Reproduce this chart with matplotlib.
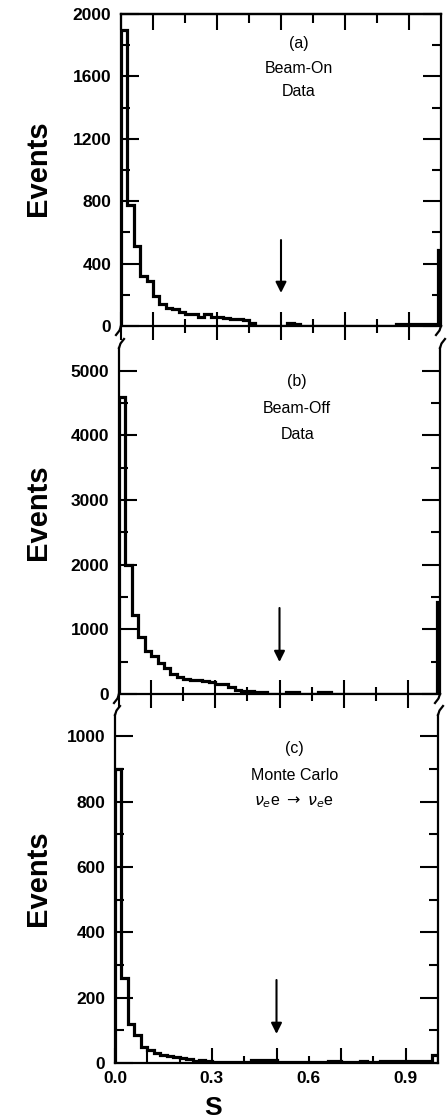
import numpy as np
import matplotlib
matplotlib.use('Agg')
import matplotlib.pyplot as plt

plt.rcParams['font.family'] = ['Liberation Sans', 'DejaVu Sans']

# S bins: 0.02 wide up to 0.98, then two narrow bins at the upper end
edges = list(np.round(np.arange(0.0, 0.981, 0.02), 2)) + [0.99, 1.00]

beam_on = [1900, 775, 515, 320, 290, 190, 140, 115, 110, 90,
           80, 80, 60, 80, 60, 55, 50, 45, 45, 40,
           20, 3, 3, 3, 3, 3, 20, 15, 3, 3,
           3, 3, 3, 3, 3, 3, 3, 3, 3, 3,
           3, 3, 3, 15, 15, 15, 15, 15, 15, 15,
           485]

beam_off = [4600, 2000, 1220, 880, 670, 590, 480, 400, 310, 260,
            230, 220, 215, 200, 180, 160, 150, 105, 60, 45,
            40, 36, 36, 5, 5, 5, 36, 36, 5, 5,
            5, 26, 26, 3, 3, 3, 3, 3, 3, 3,
            3, 3, 3, 3, 3, 3, 3, 3, 3, 3,
            1430]

monte_carlo = [900, 260, 120, 85, 50, 40, 30, 25, 22, 18,
               15, 12, 5, 10, 5, 3, 3, 3, 3, 3,
               3, 10, 10, 10, 10, 3, 3, 3, 3, 3,
               3, 3, 3, 7, 7, 3, 3, 3, 7, 3,
               3, 5, 5, 5, 5, 5, 5, 5, 5, 25,
               25]

labels = [['(a)', 'Beam-On', 'Data'],
          ['(b)', 'Beam-Off', 'Data'],
          ['(c)', 'Monte Carlo', r'$\nu_e$e $\rightarrow$ $\nu_e$e']]
y_max = [2000, 5350, 1065]
y_major = [400, 1000, 200]
cut = 0.5
arrows = [(212, 551), (495, 1330), (89, 254)]  # (tip, tail) in events

x_major = [0.0, 0.1, 0.3, 0.5, 0.7, 0.9]
x_minor = [0.2, 0.4, 0.6, 0.8]

fig = plt.figure(figsize=(4.48, 11.2), dpi=100)
W, H = 448, 1120
boxes = [(121, 441, 14, 326), (119, 440, 348, 694), (115, 438, 715, 1063)]
axes = []
for l, r, t, b in boxes:
    axes.append(fig.add_axes([l / W, 1 - b / H, (r - l) / W, (b - t) / H]))

data = [beam_on, beam_off, monte_carlo]
for i, ax in enumerate(axes):
    ax.stairs(data[i], edges, color='black', lw=2.3)
    ax.set_xlim(0, 1.0)
    ax.set_ylim(0, y_max[i])
    for s in ax.spines.values():
        s.set_linewidth(1.6)
    if i > 0:
        ax.spines['top'].set_visible(False)

    ax.set_yticks(np.arange(0, y_max[i] + 1, y_major[i]))
    ax.set_yticks(np.arange(0, y_max[i] + 1, y_major[i] / 2), minor=True)
    ax.tick_params(axis='y', which='both', direction='in', left=True, right=True,
                   width=1.5, labelsize=12.5, pad=7)
    ax.tick_params(axis='y', which='major', length=13)
    ax.tick_params(axis='y', which='minor', length=6.5)
    for lab in ax.get_yticklabels():
        lab.set_fontweight('bold')

    if i < 2:
        ax.set_xticks(x_major, labels=[''] * len(x_major))
        ax.set_xticks(x_minor, labels=[''] * len(x_minor), minor=True)
        ax.tick_params(axis='x', which='both', direction='inout', top=False, width=1.5)
        ax.tick_params(axis='x', which='major', length=20)
        ax.tick_params(axis='x', which='minor', length=10)
    else:
        ax.set_xticks(x_major, labels=['0.0', '', '0.3', '', '', '0.9'])
        ax.set_xticks(x_minor, labels=['', '', '0.6', ''], minor=True)
        ax.tick_params(axis='x', which='both', direction='in', top=False, width=1.5,
                       labelsize=12.5, pad=6)
        ax.tick_params(axis='x', which='major', length=11)
        ax.tick_params(axis='x', which='minor', length=5)
        for lab in ax.get_xticklabels(minor=False) + ax.get_xticklabels(minor=True):
            lab.set_fontweight('bold')

    # cut arrow at S = 0.5
    tip, tail = arrows[i]
    ax.annotate('', xy=(cut, tip), xytext=(cut, tail),
                arrowprops=dict(arrowstyle='-|>', color='black', lw=1.5,
                                mutation_scale=16, shrinkA=0, shrinkB=0))

    ys = [0.904, 0.826, 0.750]
    for txt, yy in zip(labels[i], ys):
        ax.text(0.555, yy, txt, transform=ax.transAxes, ha='center', va='center',
                fontsize=11.5)

    fig.text(38 / W, 1 - [168, 512, 878][i] / H, 'Events', rotation=90,
             ha='center', va='center', fontsize=21, fontweight='bold')

sec = axes[0].secondary_xaxis('top')
sec.set_xticks(x_major, labels=[''] * len(x_major))
sec.set_xticks(x_minor, labels=[''] * len(x_minor), minor=True)
sec.tick_params(which='both', direction='in', width=1.5)
sec.tick_params(which='major', length=11.5)
sec.tick_params(which='minor', length=6.5)
sec.spines['top'].set_linewidth(1.6)


# broken-axis marks between panels
def mark(ax, up):
    bb = ax.get_position()
    dx = 5 / (bb.width * W)
    dy = 9 / (bb.height * H)
    for x0 in (0, 1):
        if up:
            ax.plot([x0, x0 + dx * 0.3, x0 + dx], [1, 1 + dy * 0.5, 1 + dy],
                    color='black', lw=1.6, transform=ax.transAxes, clip_on=False)
        else:
            ax.plot([x0, x0 - dx * 0.3, x0 - dx], [0, -dy * 0.5, -dy],
                    color='black', lw=1.6, transform=ax.transAxes, clip_on=False)


mark(axes[0], False)
mark(axes[1], True)
mark(axes[1], False)
mark(axes[2], True)

fig.text(213 / W, 1 - 1108 / H, 'S', ha='center', va='center',
         fontsize=19, fontweight='bold')

fig.savefig('out.png', dpi=100)
